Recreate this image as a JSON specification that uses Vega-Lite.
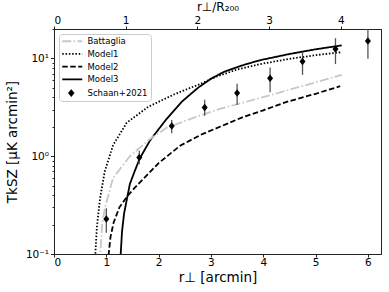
{
  "$schema": "https://vega.github.io/schema/vega-lite/v6.json",
  "autosize": "none",
  "width": 327,
  "height": 225,
  "padding": {"left": 54, "top": 29, "right": 8, "bottom": 38},
  "config": {
    "font": "DejaVu Sans",
    "view": {"stroke": "#222222", "strokeWidth": 1},
    "axis": {"domainColor": "#222222", "tickColor": "#222222", "labelColor": "#000000", "titleColor": "#000000", "labelFont": "DejaVu Sans", "titleFont": "DejaVu Sans", "labelFontSize": 10.5, "titleFontSize": 13.5, "titleFontWeight": "normal", "grid": false}
  },
  "datasets": {
    "curves": [
      {"s": "Model1", "x": 0.775, "y": 0.08},
      {"s": "Model1", "x": 0.79, "y": 0.1},
      {"s": "Model1", "x": 0.82, "y": 0.19},
      {"s": "Model1", "x": 0.88, "y": 0.37},
      {"s": "Model1", "x": 0.97, "y": 0.7},
      {"s": "Model1", "x": 1.13, "y": 1.3},
      {"s": "Model1", "x": 1.39, "y": 2.2},
      {"s": "Model1", "x": 1.8, "y": 3.2},
      {"s": "Model1", "x": 2.3, "y": 4.3},
      {"s": "Model1", "x": 2.8, "y": 5.5},
      {"s": "Model1", "x": 3.1, "y": 6.5},
      {"s": "Model1", "x": 3.5, "y": 7.7},
      {"s": "Model1", "x": 3.94, "y": 8.75},
      {"s": "Model1", "x": 4.5, "y": 9.9},
      {"s": "Model1", "x": 5.0, "y": 10.8},
      {"s": "Model1", "x": 5.5, "y": 11.6},
      {"s": "Model3", "x": 1.265, "y": 0.08},
      {"s": "Model3", "x": 1.275, "y": 0.1},
      {"s": "Model3", "x": 1.3, "y": 0.17},
      {"s": "Model3", "x": 1.34, "y": 0.26},
      {"s": "Model3", "x": 1.45, "y": 0.52},
      {"s": "Model3", "x": 1.55, "y": 0.72},
      {"s": "Model3", "x": 1.64, "y": 0.95},
      {"s": "Model3", "x": 1.835, "y": 1.45},
      {"s": "Model3", "x": 2.15, "y": 2.4},
      {"s": "Model3", "x": 2.44, "y": 3.6},
      {"s": "Model3", "x": 2.75, "y": 5.0},
      {"s": "Model3", "x": 3.0, "y": 6.2},
      {"s": "Model3", "x": 3.25, "y": 7.3},
      {"s": "Model3", "x": 3.6, "y": 8.5},
      {"s": "Model3", "x": 3.94, "y": 9.6},
      {"s": "Model3", "x": 4.5, "y": 11.1},
      {"s": "Model3", "x": 5.0, "y": 12.4},
      {"s": "Model3", "x": 5.5, "y": 13.6},
      {"s": "Battaglia", "x": 0.87, "y": 0.08},
      {"s": "Battaglia", "x": 0.885, "y": 0.1},
      {"s": "Battaglia", "x": 0.92, "y": 0.2},
      {"s": "Battaglia", "x": 0.975, "y": 0.3},
      {"s": "Battaglia", "x": 1.13, "y": 0.6},
      {"s": "Battaglia", "x": 1.45, "y": 1.0},
      {"s": "Battaglia", "x": 1.835, "y": 1.5},
      {"s": "Battaglia", "x": 2.15, "y": 1.95},
      {"s": "Battaglia", "x": 2.6, "y": 2.4},
      {"s": "Battaglia", "x": 3.17, "y": 3.05},
      {"s": "Battaglia", "x": 3.5, "y": 3.4},
      {"s": "Battaglia", "x": 4.13, "y": 4.2},
      {"s": "Battaglia", "x": 4.45, "y": 4.7},
      {"s": "Battaglia", "x": 5.0, "y": 5.7},
      {"s": "Battaglia", "x": 5.5, "y": 6.8},
      {"s": "Model2", "x": 1.03, "y": 0.08},
      {"s": "Model2", "x": 1.045, "y": 0.1},
      {"s": "Model2", "x": 1.08, "y": 0.15},
      {"s": "Model2", "x": 1.14, "y": 0.21},
      {"s": "Model2", "x": 1.25, "y": 0.3},
      {"s": "Model2", "x": 1.4, "y": 0.39},
      {"s": "Model2", "x": 1.55, "y": 0.48},
      {"s": "Model2", "x": 1.75, "y": 0.62},
      {"s": "Model2", "x": 2.0, "y": 0.85},
      {"s": "Model2", "x": 2.41, "y": 1.28},
      {"s": "Model2", "x": 2.8, "y": 1.65},
      {"s": "Model2", "x": 3.17, "y": 2.0},
      {"s": "Model2", "x": 3.6, "y": 2.5},
      {"s": "Model2", "x": 4.0, "y": 2.95},
      {"s": "Model2", "x": 4.45, "y": 3.6},
      {"s": "Model2", "x": 5.0, "y": 4.35},
      {"s": "Model2", "x": 5.47, "y": 5.2}
    ],
    "schaan": [
      {"x": 1.0, "y": 0.228, "lo": 0.165, "hi": 0.294},
      {"x": 1.63, "y": 0.97, "lo": 0.83, "hi": 1.14},
      {"x": 2.25, "y": 2.04, "lo": 1.72, "hi": 2.35},
      {"x": 2.88, "y": 3.15, "lo": 2.6, "hi": 3.77},
      {"x": 3.5, "y": 4.42, "lo": 3.35, "hi": 5.5},
      {"x": 4.13, "y": 6.28, "lo": 4.5, "hi": 8.1},
      {"x": 4.75, "y": 9.3, "lo": 6.8, "hi": 11.7},
      {"x": 5.38, "y": 12.5, "lo": 8.75, "hi": 16.1},
      {"x": 6.0, "y": 15.1, "lo": 9.9, "hi": 21}
    ],
    "topticks": [{"t": 0}, {"t": 4}]
  },
  "layer": [
    {
      "layer": [
        {
          "data": {"name": "curves"},
          "mark": {"type": "line", "clip": true, "strokeWidth": 1.8, "strokeCap": "butt"},
          "encoding": {
            "x": {"field": "x", "type": "quantitative", "scale": {"domain": [0, 6.25], "nice": false, "zero": false}, "axis": {"values": [0, 1, 2, 3, 4, 5, 6], "format": "d", "title": "r⊥ [arcmin]", "tickSize": 3, "labelPadding": 0, "titlePadding": 3}},
            "y": {"field": "y", "type": "quantitative", "scale": {"type": "log", "domain": [0.1, 20], "nice": false}, "axis": {"values": [0.1, 0.2, 0.3, 0.4, 0.5, 0.6, 0.7, 0.8, 0.9, 1, 2, 3, 4, 5, 6, 7, 8, 9, 10, 20], "labelExpr": "datum.value == 0.1 ? '10⁻¹' : datum.value == 1 ? '10⁰' : datum.value == 10 ? '10¹' : ''", "tickSize": {"condition": {"test": "datum.value == 0.1 || datum.value == 1 || datum.value == 10", "value": 3.5}, "value": 2}, "labelPadding": 2, "title": "TkSZ [μK arcmin²]", "titlePadding": 6}},
            "color": {"field": "s", "type": "nominal", "scale": {"domain": ["Battaglia", "Model1", "Model2", "Model3", "Schaan+2021"], "range": ["#c8c8c8", "#000000", "#000000", "#000000", "#000000"]},
              "legend": {"title": null, "orient": "none", "legendX": 5, "legendY": 5, "padding": 3, "strokeColor": "#cccccc", "fillColor": "rgba(255,255,255,0.85)", "cornerRadius": 3, "labelFontSize": 8.5, "labelFont": "DejaVu Sans", "labelColor": "#000000", "labelOffset": 17, "rowPadding": 3.7, "symbolSize": 64,
                "encode": {"symbols": {"update": {
                  "shape": {"signal": "datum.value === 'Schaan+2021' ? 'M0.5,0L1.25,-0.9L2,0L1.25,0.9Z' : 'M-1,0L4,0'"},
                  "strokeDash": {"signal": "datum.value === 'Battaglia' ? [9,2.4,1.5,2.4] : datum.value === 'Model1' ? [1.5,1.8] : datum.value === 'Model2' ? [5.5,2.5] : [1,0]"},
                  "fill": {"signal": "datum.value === 'Schaan+2021' ? '#000000' : 'transparent'"},
                  "stroke": {"signal": "datum.value === 'Battaglia' ? '#c8c8c8' : '#000000'"},
                  "strokeWidth": {"signal": "datum.value === 'Schaan+2021' ? 0.5 : 1.8"},
                  "opacity": {"value": 1}
                }}}}},
            "strokeDash": {"field": "s", "type": "nominal", "scale": {"domain": ["Battaglia", "Model1", "Model2", "Model3"], "range": [[9, 2.4, 1.5, 2.4], [1.5, 1.8], [5.5, 2.5], [1, 0]]}, "legend": null}
          }
        },
        {
          "data": {"name": "schaan"},
          "mark": {"type": "rule", "color": "#555555", "strokeWidth": 1.3, "clip": true},
          "encoding": {
            "x": {"field": "x", "type": "quantitative"},
            "y": {"field": "lo", "type": "quantitative"},
            "y2": {"field": "hi"}
          }
        },
        {
          "data": {"name": "schaan"},
          "mark": {"type": "point", "shape": "M-1,0L0,-1.25L1,0L0,1.25Z", "filled": true, "color": "#000000", "opacity": 1, "size": 36},
          "encoding": {
            "x": {"field": "x", "type": "quantitative"},
            "y": {"field": "y", "type": "quantitative"}
          }
        }
      ]
    },
    {
      "data": {"name": "topticks"},
      "mark": {"type": "point", "opacity": 0},
      "encoding": {
        "x": {"field": "t", "type": "quantitative", "scale": {"domain": [0, 4.56], "nice": false, "zero": false}, "axis": {"orient": "top", "values": [0, 1, 2, 3, 4], "title": "r⊥/R₂₀₀", "titleFontSize": 12, "tickSize": 3, "labelPadding": 1, "titlePadding": 2, "format": "d"}}
      }
    }
  ],
  "resolve": {"scale": {"x": "independent"}}
}
